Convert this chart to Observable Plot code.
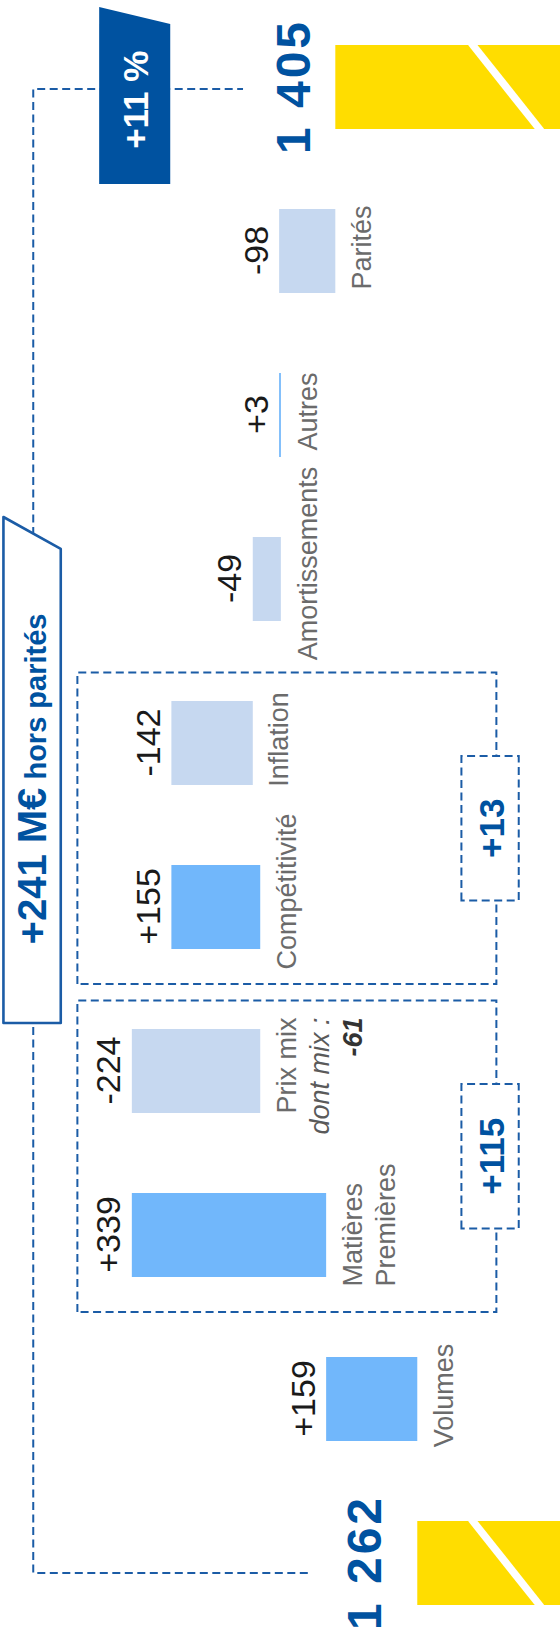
<!DOCTYPE html>
<html>
<head>
<meta charset="utf-8">
<script src="https://cdn.jsdelivr.net/npm/d3@7"></script>
<script src="https://cdn.jsdelivr.net/npm/@observablehq/plot@0.6"></script>
<style>
  html, body { margin: 0; padding: 0; background: #fff; }
  #wrap { position: relative; width: 560px; height: 1642px; overflow: hidden; background: #fff; }
  #wrap > svg { position: absolute; left: 0; top: 0; width: 1642px !important; height: 560px !important; max-width: none !important; transform-origin: 0 0; transform: translate(0, 1642px) rotate(-90deg); }
</style>
</head>
<body>
<div id="wrap"></div>
<script>
// ---------- DATA ----------
const startTotal = 1262;
const endTotal = 1405;
const stepNames = ["Volumes", "Matières Premières", "Prix mix", "Compétitivité", "Inflation", "Amortissements", "Autres", "Parités"];
const stepDeltas = [159, 339, -224, 155, -142, -49, 3, -98];
const groupPrix = ["Matières Premières", "Prix mix"];
const groupCompet = ["Compétitivité", "Inflation"];
const excludedFromSubtotal = ["Parités"];
const mixDetail = -61;

// ---------- derived table ----------
const frLocale = d3.formatLocale({decimal: ",", thousands: " ", grouping: [3], currency: ["", " €"]});
const fmtTotal = frLocale.format(",d");
const signed = (v) => (v > 0 ? "+" : "") + v;

const AXIS_BASE = 1013; // visual truncation of the value axis (broken bars)
const rows = [];
let run = startTotal;
rows.push({key: "start", y1: AXIS_BASE, y2: startTotal, kind: "total", text: fmtTotal(startTotal)});
stepNames.forEach((n, i) => {
  const d = stepDeltas[i];
  rows.push({key: n, y1: run, y2: run + d, kind: d >= 0 ? "up" : "down", text: signed(d)});
  run += d;
});
rows.push({key: "end", y1: AXIS_BASE, y2: endTotal, kind: "total", text: fmtTotal(endTotal)});

const sumOf = (names) => d3.sum(names, (n) => stepDeltas[stepNames.indexOf(n)]);
const subtotalPrix = sumOf(groupPrix);
const subtotalCompet = sumOf(groupCompet);
const exParity = sumOf(stepNames.filter((n) => !excludedFromSubtotal.includes(n)));
const growthPct = Math.round((endTotal / startTotal - 1) * 100);

// ---------- STYLE ----------
const COLORS = {total: "#ffdd00", up: "#71b7fb", down: "#c6d8f0"};
const DARK = "#0052a0";
const DASH = "#1b5ca6";
const GREY = "#6b6b6b";
const FONT = "'Liberation Sans', Arial, Helvetica, sans-serif";

const stepRows = rows.filter((d) => d.kind !== "total");
const hiVal = (d) => Math.max(d.y1, d.y2);
const loVal = (d) => Math.min(d.y1, d.y2);
const shiftedNames = ["Compétitivité", "Amortissements"];
const plainLabels = stepRows.filter((d) => !groupPrix.includes(d.key) && !shiftedNames.includes(d.key));
const shiftedLabels = stepRows.filter((d) => shiftedNames.includes(d.key));
const rowOf = (k) => rows.find((d) => d.key === k);

const chart = Plot.plot({
  width: 1642,
  height: 560,
  margin: 0,
  x: {domain: rows.map((d) => d.key), range: [0, 1634], paddingInner: 0.488, paddingOuter: 0.2256, align: 0.5, axis: null},
  y: {domain: [AXIS_BASE, 1990], range: [560, 0], axis: null},
  color: {type: "identity"},
  style: {fontFamily: FONT, background: "#fff", overflow: "visible"},
  marks: [
    Plot.barY(rows, {x: "key", y1: "y1", y2: "y2", fill: (d) => COLORS[d.kind]}),
    // value labels
    Plot.text(stepRows, {x: "key", y: hiVal, text: "text", lineAnchor: "bottom", dy: -12, fontSize: 34, fill: "#1a1a1a"}),
    // totals
    Plot.text([rowOf("start")], {x: "key", y: "y2", text: "text", lineAnchor: "bottom", dy: -37, fontSize: 48, fontWeight: "bold", fill: DARK}),
    Plot.text([rowOf("end")], {x: "key", y: "y2", text: "text", lineAnchor: "bottom", dy: -26, fontSize: 48, fontWeight: "bold", fill: DARK}),
    // category labels
    Plot.text(plainLabels, {x: "key", y: loVal, text: "key", lineAnchor: "top", dy: 16, dx: 3, fontSize: 27, fill: GREY}),
    Plot.text(shiftedLabels, {x: "key", y: loVal, text: "key", lineAnchor: "top", dy: 16, dx: 15, fontSize: 27, fill: GREY}),
    Plot.text([rowOf(groupPrix[0])], {x: "key", y: loVal, text: (d) => d.key.split(" ")[0], textAnchor: "start", dx: -52, lineAnchor: "top", dy: 16, fontSize: 27, fill: GREY}),
    Plot.text([rowOf(groupPrix[0])], {x: "key", y: loVal, text: (d) => d.key.split(" ")[1], textAnchor: "start", dx: -52, lineAnchor: "top", dy: 49, fontSize: 27, fill: GREY}),
    Plot.text([rowOf(groupPrix[1])], {x: "key", y: loVal, text: "key", textAnchor: "end", dx: 53, lineAnchor: "top", dy: 16, fontSize: 27, fill: GREY}),
    Plot.text([rowOf(groupPrix[1])], {x: "key", y: loVal, text: () => "dont mix :", textAnchor: "end", dx: 53, lineAnchor: "top", dy: 49, fontSize: 27, fontStyle: "italic", fill: "#5a5a5a"}),
    Plot.text([rowOf(groupPrix[1])], {x: "key", y: loVal, text: () => String(mixDetail), textAnchor: "end", dx: 53, lineAnchor: "top", dy: 82, fontSize: 27, fontStyle: "italic", fontWeight: "bold", fill: "#333"})
  ]
});

chart.style.maxWidth = "none";
document.getElementById("wrap").appendChild(chart);

// ---------- annotations placed with the plot's own scales ----------
const xs = chart.scale("x"), ys = chart.scale("y");
const bw = xs.bandwidth, st = xs.step;
const cx = (k) => xs.apply(k) + bw / 2;
const at = (k, f) => cx(k) + f * st;
const Y = (v) => ys.apply(v);
const svgSel = d3.select(chart);

// stretch the bold totals slightly
svgSel.selectAll("text").filter(function () { return this.textContent === fmtTotal(startTotal) || this.textContent === fmtTotal(endTotal); })
  .style("letter-spacing", "3px");

const g = svgSel.append("g");

// axis-break cuts on the total bars
for (const k of ["start", "end"]) {
  g.append("line")
    .attr("x1", xs.apply(k) - 2).attr("y1", Y(1046))
    .attr("x2", xs.apply(k) + bw + 2).attr("y2", Y(1168))
    .attr("stroke", "#fff").attr("stroke-width", 7.5);
}

const dashed = (sel) => sel.attr("fill", "none").attr("stroke", DASH).attr("stroke-width", 2).attr("stroke-dasharray", "8,4.5");

// bracket from start total to end total
dashed(g.append("path").attr("d",
  `M${cx("start") - 10},${Y(1453)} V${Y(1932)} H${cx("end") - 2} V${Y(1566)}`));

// group boxes
const boxes = [
  {names: groupPrix, value: subtotalPrix},
  {names: groupCompet, value: subtotalCompet}
];
for (const b of boxes) {
  const x0 = at(b.names[0], -0.47), x1 = at(b.names[1], 0.43);
  dashed(g.append("rect").attr("x", x0).attr("y", Y(1855)).attr("width", x1 - x0).attr("height", Y(1124) - Y(1855)));
  const mid = (x0 + x1) / 2, hw = 0.44 * st;
  dashed(g.append("rect").attr("x", mid - hw).attr("y", Y(1185)).attr("width", 2 * hw).attr("height", Y(1085) - Y(1185)))
    .attr("fill", "#fff");
  g.append("text").attr("x", mid).attr("y", Y(1110)).attr("text-anchor", "middle")
    .attr("font-size", 35).attr("font-weight", "bold").attr("fill", DARK).attr("font-family", FONT)
    .text(signed(b.value));
}

// "+241 M€ hors parités" banner
{
  const xa = at("Prix mix", 0.293), xb = at("Amortissements", 0.378), xc = at("Amortissements", 0.183);
  const yt = Y(1984), yb = Y(1884);
  g.append("path").attr("d", `M${xa},${yt} L${xb},${yt} L${xc},${yb} L${xa},${yb} Z`)
    .attr("fill", "#fff").attr("stroke", DASH).attr("stroke-width", 2.6).attr("stroke-linejoin", "round");
  const t = g.append("text").attr("x", (xa + (xb + xc) / 2) / 2 - 1).attr("y", Y(1910)).attr("text-anchor", "middle")
    .attr("font-family", FONT).attr("font-weight", "bold").attr("fill", DARK);
  t.append("tspan").attr("font-size", 40).text(`${signed(exParity)} M€`);
  t.append("tspan").attr("font-size", 29).text(" hors parités");
}

// "+11 %" banner
{
  const xa = at("end", -0.591), xb = at("end", 0.488), xc = at("end", 0.384);
  const yt = Y(1817), yb = Y(1693);
  g.append("path").attr("d", `M${xa},${yt} L${xb},${yt} L${xc},${yb} L${xa},${yb} Z`).attr("fill", DARK);
  g.append("text").attr("x", (xa + (xb + xc) / 2) / 2).attr("y", Y(1732)).attr("text-anchor", "middle")
    .attr("font-family", FONT).attr("font-weight", "bold").attr("font-size", 35).attr("fill", "#fff")
    .text(`${signed(growthPct)} %`);
}
</script>
</body>
</html>
